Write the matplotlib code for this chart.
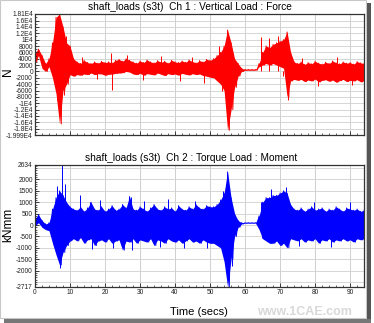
import numpy as np
from matplotlib import pyplot as plt
from matplotlib.patches import Rectangle

# time grid (secs) for the hand-read envelopes
t_sec = list(range(95))

# Ch 1 : Vertical Load : Force  (N) -- upper / lower envelope per second
force_hi = [6000, 7000, 5000, 2500, 4000, 9000, 17000, 18100, 14000, 9000,
            8000, 4000, 3000, 2500, 3500, 2800, 2500, 3000, 2600, 3200,
            2800, 3000, 2700, 3500, 3800, 3200, 4000, 3500, 3000, 2600,
            3300, 2800, 3600, 3000, 2700, 3400, 2900, 3200, 2600, 3500,
            3000, 2800, 3300, 2900, 3600, 3100, 2700, 3400, 3000, 3800,
            3500, 4000, 5000, 6000, 8000, 13000, 9000, 4000, 2500, 1000,
            600, 600, 600, 600, 2500, 6000, 8000, 7500, 8500, 9000,
            9500, 10000, 12400, 6000, 3000, 2500, 3000, 2200, 2800, 2400,
            3200, 2600, 2300, 2900, 2500, 3300, 2700, 2400, 3000, 2600,
            2800, 2300, 3100, 2700, 2500]
force_lo = [3000, 5000, 1000, 0, 1500, -2000, -7000, -16500, -6000, -4000,
            -1000, -1500, -1000, -1200, -800, -1000, -500, -1000, -700, -800,
            -1200, -900, -800, -600, -500, -400, 0, -200, -800, -1000,
            -600, -1200, -700, -900, -1100, -500, -900, -1300, -700, -1000,
            -800, -1200, -600, -900, -1100, -700, -1000, -800, -1300, -1500,
            -1800, -2000, -3000, -4000, -6000, -18500, -12000, -5000, -1500, 0,
            400, 400, 400, 400, 1500, 2000, 2500, 2000, 2500, 2000,
            1500, 1000, -8000, -3000, -2500, -2800, -2500, -3200, -2700, -3000,
            -2400, -3300, -2800, -2600, -3100, -2700, -3400, -2900, -2500, -3200,
            -2800, -3000, -2600, -3300, -2900]
# isolated spikes sticking out of the band
force_spike_t = [5.6, 6.3, 6.9, 7.4, 8.3, 8.8, 13.4, 17.8, 21.7, 21.9, 26.4, 30.8,
                 36.1, 41.3, 44.7, 48.2, 52.6, 53.4, 64.5, 66.8, 69.3, 70.8,
                 72.3, 76.2, 80.9, 86.2, 90.4]
force_spike_v = [12000, -9000, 16000, 15000, -7500, 11000, 4500, -2500, 5800, -5800,
                 5200, -2800, 4800, -3000, 4500, -3500, 8000, -6000, 10800, 10500,
                 11000, -1500, -9000, 4200, -4500, 4500, -4300]

# Ch 2 : Torque Load : Moment  (kNmm)
moment_hi = [300, 450, 200, 50, 100, 700, 1200, 1500, 1300, 1000,
             800, 700, 650, 800, 600, 750, 1000, 700, 650, 800,
             600, 700, 850, 650, 700, 900, 750, 1250, 700, 650,
             800, 700, 600, 750, 900, 700, 650, 800, 700, 750,
             600, 850, 700, 650, 800, 700, 900, 750, 700, 850,
             800, 800, 900, 1100, 1400, 2330, 1200, 500, 200, 100,
             100, 100, 100, 100, 400, 1000, 1200, 1200, 1300, 1300,
             1400, 1500, 1400, 900, 700, 650, 750, 600, 700, 800,
             650, 700, 750, 600, 700, 650, 800, 700, 600, 750,
             700, 650, 700, 600, 650]
moment_lo = [0, 100, -100, -200, -250, -800, -1300, -1750, -1200, -900,
             -700, -600, -700, -550, -800, -650, -600, -900, -700, -650,
             -750, -600, -800, -700, -650, -1100, -700, -750, -600, -800,
             -650, -700, -750, -600, -900, -650, -700, -800, -600, -700,
             -750, -650, -800, -700, -600, -750, -700, -800, -650, -750,
             -800, -800, -900, -1000, -1600, -2717, -1500, -500, -100, 50,
             80, 80, 80, 80, -200, -600, -700, -800, -800, -700,
             -900, -800, -1000, -600, -650, -700, -600, -750, -650, -700,
             -600, -800, -650, -700, -600, -750, -650, -700, -600, -700,
             -650, -750, -600, -650, -600]
moment_spike_t = [6.2, 7.1, 7.8, 8.6, 12.9, 15.7, 16.2, 18.6, 22.4, 27.3, 27.6,
                  31.2, 35.8, 38.0, 42.5, 45.7, 49.1, 53.7, 56.2, 64.5, 64.7,
                  67.4, 71.6, 75.3, 79.8, 84.6, 89.9]
moment_spike_v = [1700, -1900, 2634, 1800, 1300, 1000, -1050, 1100, -1000, 1250, -1100,
                  1050, -950, 1150, -1000, 1050, -1000, 1500, -1800, 1000, -570,
                  1600, 1650, -900, 1000, -950, 1000]

force_ticks = [18100, 16000, 14000, 12000, 10000, 8000, 6000, 4000, 2000, 0,
               -2000, -4000, -6000, -8000, -10000, -12000, -14000, -16000,
               -18000, -19990]
force_labels = ["1.81E4", "1.6E4", "1.4E4", "1.2E4", "1E4", "8000", "6000",
                "4000", "2000", "0", "-2000", "-4000", "-6000", "-8000",
                "-1E4", "-1.2E4", "-1.4E4", "-1.6E4", "-1.8E4", "-1.999E4"]
moment_ticks = [2634, 2000, 1500, 1000, 500, 0, -500, -1000, -1500, -2000, -2717]
moment_labels = ["2634", "2000", "1500", "1000", "500", "0", "-500", "-1000",
                 "-1500", "-2000", "-2717"]

plt.rcParams['font.family'] = ['Liberation Sans', 'DejaVu Sans']


def draw_signal(ax, hi, lo, spike_t, spike_v, color):
    t = np.array(t_sec, dtype=float)
    tz = np.column_stack([t, t + 0.5]).ravel()
    vz = np.column_stack([hi, lo]).ravel()
    ax.fill_between(t, lo, hi, color=color, lw=0)
    ax.plot(tz, vz, color=color, lw=0.7)
    ax.vlines(spike_t, 0, spike_v, color=color, lw=0.7)


def style_axes(ax, ymin, ymax, ticks, labels, grid_vals):
    ax.set_xlim(0, 94)
    ax.set_ylim(ymin, ymax)
    ax.set_xticks(range(0, 95, 10))
    ax.set_xticks(range(0, 95, 2), minor=True)
    ax.set_yticks(ticks)
    ax.set_yticklabels(labels)
    for g in range(0, 95, 10):
        ax.axvline(g, color='#c8c8c8', lw=0.6, zorder=0)
    for g in grid_vals:
        ax.axhline(g, color='#d0d0d0', lw=0.6, zorder=0)
    ax.tick_params(which='both', direction='in', labelsize=4.8, pad=1.5,
                   colors='#222222', right=False, top=False)
    ax.tick_params(which='major', length=3, width=0.6)
    ax.tick_params(which='minor', length=1.5, width=0.5)
    for s in ax.spines.values():
        s.set_color('#333333')
        s.set_linewidth(0.9)


def data_plot():
    fig = plt.figure(figsize=(3.74, 3.23), dpi=100)

    # outer frame with a little shadow
    fig.patches.append(Rectangle((0.0, 0.015), 0.978, 0.985, transform=fig.transFigure,
                                 fill=False, edgecolor='#c8c8c8', lw=0.8))
    fig.patches.append(Rectangle((0.981, 0.0), 0.012, 0.99, transform=fig.transFigure,
                                 color='#555555', lw=0))
    fig.patches.append(Rectangle((0.01, 0.0), 0.983, 0.012, transform=fig.transFigure,
                                 color='#777777', lw=0))

    ax1 = fig.add_axes([0.0936, 0.582, 0.880, 0.375])
    ax2 = fig.add_axes([0.0936, 0.1115, 0.880, 0.3777])

    draw_signal(ax1, force_hi, force_lo, force_spike_t, force_spike_v, '#ff0000')
    style_axes(ax1, -19990, 18100, force_ticks, force_labels, range(-18000, 18001, 2000))
    ax1.set_yticks(range(-19000, 18001, 1000), minor=True)
    ax1.set_xticklabels([])

    draw_signal(ax2, moment_hi, moment_lo, moment_spike_t, moment_spike_v, '#0000ff')
    style_axes(ax2, -2717, 2634, moment_ticks, moment_labels, range(-2500, 2501, 500))
    ax2.set_yticks(range(-2700, 2601, 100), minor=True)

    fig.text(190 / 374, 1 - 7 / 323, "shaft_loads (s3t)  Ch 1 : Vertical Load : Force",
             ha='center', va='center', fontsize=7.3)
    fig.text(191 / 374, 1 - 158 / 323, "shaft_loads (s3t)  Ch 2 : Torque Load : Moment",
             ha='center', va='center', fontsize=7.3)
    fig.text(8 / 374, 1 - 72 / 323, "N", rotation=90, ha='center', va='center', fontsize=8.5)
    fig.text(8 / 374, 1 - 225 / 323, "kNmm", rotation=90, ha='center', va='center', fontsize=8.5)
    fig.text(199 / 374, 1 - 312 / 323, "Time (secs)", ha='center', va='center', fontsize=8)
    fig.text(352 / 374, 1 - 312 / 323, "www.1CAE.com", ha='right', va='center',
             fontsize=9, color='#d8d8d8', fontweight='bold')

    plt.savefig('out.png', dpi=100)
    plt.close()


if __name__ == "__main__":
    data_plot()
